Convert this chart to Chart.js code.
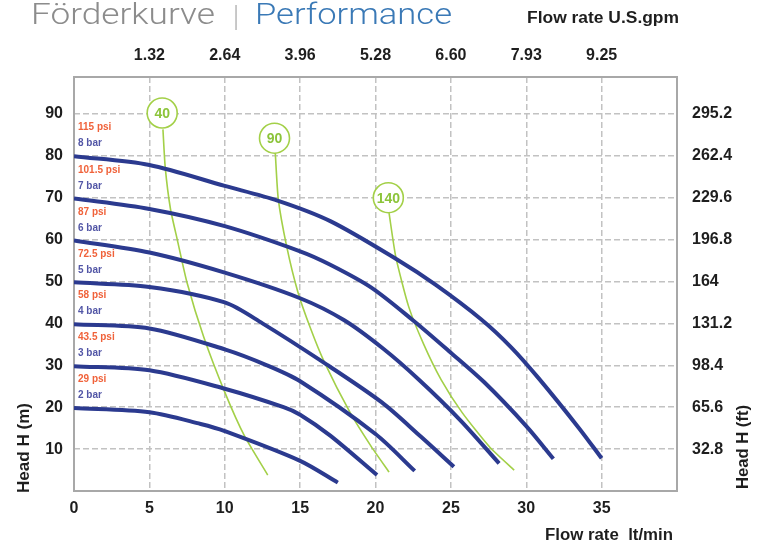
<!DOCTYPE html>
<html>
<head>
<meta charset="utf-8">
<title>Förderkurve | Performance</title>
<script src="https://cdn.jsdelivr.net/npm/chart.js@4.4.1/dist/chart.umd.min.js"></script>
<style>
    html, body { margin: 0; padding: 0; background: #fff; }
    #wrap { width: 765px; height: 544px; }
</style>
</head>
<body>
<div id="wrap"><canvas id="pumpChart" width="765" height="544"></canvas></div>
<script>
// Axis ticks
const flowTicks = [0, 5, 10, 15, 20, 25, 30, 35];
const gpmTicks = [5, 10, 15, 20, 25, 30, 35];
const gpmLabels = ['1.32', '2.64', '3.96', '5.28', '6.60', '7.93', '9.25'];
const headTicks = [10, 20, 30, 40, 50, 60, 70, 80, 90];
const feetLabels = ['32.8', '65.6', '98.4', '131.2', '164', '196.8', '229.6', '262.4', '295.2'];

// Pressure curves: flow (lt/min) and head (m)
const flow2 = [0, 5, 8.4, 10, 15, 17.5];
const head2 = [19.8, 18.8, 16, 14.3, 7.2, 2];
const flow3 = [0, 5, 10, 13.9, 15, 17, 20.1];
const head3 = [29.8, 28.8, 24.4, 20, 18.2, 13.2, 3.8];
const flow4 = [0, 5, 10, 12.8, 15, 20, 22.6];
const head4 = [39.8, 38.8, 33.8, 30, 26.2, 13.6, 4.8];
const flow5 = [0, 5, 10, 12.5, 16.5, 20.4, 23, 25.2];
const head5 = [49.8, 48.7, 45, 40, 30.8, 21.2, 13, 5.8];
const flow6 = [0, 5, 10, 15, 17.9, 20.5, 22.9, 25.6, 28.2];
const head6 = [59.8, 56.9, 52.1, 46, 40.8, 34, 26.5, 17, 6.6];
const flow7 = [0, 5, 10, 15, 17, 19.7, 22.4, 25, 27.2, 30, 31.8];
const head7 = [69.8, 67.3, 63.2, 57.2, 54, 48.6, 41, 33, 26, 15.5, 7.7];
const flow8 = [0, 5, 10, 13.5, 17, 21.4, 24, 27, 29, 30.8, 33.5, 35];
const head8 = [79.9, 77.8, 72.8, 69.3, 64.4, 55.3, 49.2, 41, 34.3, 27, 15, 7.8];

const barLabels = ['2 bar', '3 bar', '4 bar', '5 bar', '6 bar', '7 bar', '8 bar'];
const psiLabels = ['29 psi', '43.5 psi', '58 psi', '72.5 psi', '87 psi', '101.5 psi', '115 psi'];

// Stroke lines (green)
const flow40 = [5.9, 6.05, 6.4, 6.85, 7.5, 8.6, 10.0, 11.3, 12.85];
const head40 = [86.3, 77.3, 67.3, 60, 49.7, 36.8, 23.6, 13.2, 3.8];
const flow90 = [13.35, 13.55, 14.1, 14.85, 15.7, 16.6, 18.3, 19.7, 20.9];
const head90 = [80.8, 69.7, 58.5, 47.5, 38.7, 30.8, 18.8, 10.7, 4.5];
const flow140 = [20.9, 21.35, 22.2, 23.2, 24.35, 25.75, 27.6, 29.2];
const head140 = [66.3, 55.8, 44, 35, 26.6, 18.7, 10.4, 5];

const markerFlow = [5.85, 13.3, 20.85];
const markerHead = [90.2, 84.2, 70];
const markerLabels = ['40', '90', '140'];

const BLUE = '#2b3a8f';
const GREEN = '#a3d048';
const FONT = '"Liberation Sans", Arial, sans-serif';

const toPoints = (xs, ys) => xs.map((x, i) => ({ x: x, y: ys[i] }));

const pressureFlows = [flow2, flow3, flow4, flow5, flow6, flow7, flow8];
const pressureHeads = [head2, head3, head4, head5, head6, head7, head8];

const datasets = [];

// green lines first (drawn underneath)
[[flow40, head40], [flow90, head90], [flow140, head140]].forEach(([f, h]) => {
    datasets.push({
        data: toPoints(f, h),
        showLine: true,
        borderColor: GREEN,
        borderWidth: 1.6,
        pointRadius: 0,
        tension: 0.2,
        order: 3,
    });
});

pressureFlows.forEach((f, i) => {
    datasets.push({
        data: toPoints(f, pressureHeads[i]),
        showLine: true,
        borderColor: BLUE,
        borderWidth: 4,
        pointRadius: 0,
        tension: 0.3,
        borderCapStyle: 'butt',
        order: 2,
    });
});

const markerIndex = datasets.length;
datasets.push({
    data: toPoints(markerFlow, markerHead),
    showLine: false,
    pointRadius: 15,
    pointBackgroundColor: '#fff',
    pointBorderColor: GREEN,
    pointBorderWidth: 1.6,
    order: 1,
});

// draw text in a given width (condensed fonts are not installed)
function fitText(ctx, text, x, y, width) {
    const w = ctx.measureText(text).width;
    ctx.save();
    ctx.translate(x, y);
    ctx.scale(width / w, 1);
    ctx.fillText(text, 0, 0);
    ctx.restore();
}

const annotations = {
    id: 'annotations',
    beforeDatasetsDraw(chart) {
        const { ctx, chartArea: a } = chart;
        ctx.save();
        ctx.strokeStyle = '#a8a8a8';
        ctx.lineWidth = 2;
        ctx.strokeRect(a.left, a.top, a.right - a.left, a.bottom - a.top);
        ctx.restore();
    },
    afterDatasetsDraw(chart) {
        const { ctx, scales: { x, y } } = chart;
        ctx.save();

        // bar / psi labels above each pressure curve
        ctx.font = 'bold 10px ' + FONT;
        ctx.textAlign = 'left';
        ctx.textBaseline = 'middle';
        pressureHeads.forEach((heads, i) => {
            const px = x.getPixelForValue(0) + 4;
            ctx.fillStyle = '#5256a6';
            ctx.fillText(barLabels[i], px, y.getPixelForValue(heads[0] + 3));
            ctx.fillStyle = '#f0623a';
            ctx.fillText(psiLabels[i], px, y.getPixelForValue(heads[0] + 6.8));
        });

        // numbers in the green circles
        ctx.font = 'bold 14px ' + FONT;
        ctx.textAlign = 'center';
        ctx.fillStyle = '#8cc43a';
        chart.getDatasetMeta(markerIndex).data.forEach((pt, i) => {
            ctx.fillText(markerLabels[i], pt.x, pt.y + 1);
        });
        ctx.restore();
    },
    afterDraw(chart) {
        const ctx = chart.ctx;
        ctx.save();
        ctx.textBaseline = 'alphabetic';
        ctx.textAlign = 'left';

        // title
        ctx.font = '300 30px Roboto, "Open Sans", sans-serif';
        ctx.fillStyle = '#8c8c8c';
        fitText(ctx, 'Förderkurve', 31, 24, 184);
        fitText(ctx, '|', 234, 26, 4);
        ctx.fillStyle = '#3a79b6';
        fitText(ctx, 'Performance', 255, 24, 197);

        // axis titles
        ctx.fillStyle = '#1e1e1e';
        ctx.font = 'bold 16px ' + FONT;
        fitText(ctx, 'Flow rate U.S.gpm', 527, 23, 152);
        fitText(ctx, 'Flow rate  lt/min', 545, 540, 128);

        ctx.save();
        ctx.translate(29, 493);
        ctx.rotate(-Math.PI / 2);
        fitText(ctx, 'Head H (m)', 0, 0, 90);
        ctx.restore();

        ctx.save();
        ctx.translate(748, 489);
        ctx.rotate(-Math.PI / 2);
        fitText(ctx, 'Head H (ft)', 0, 0, 84);
        ctx.restore();

        ctx.restore();
    },
};

const tickFont = { family: FONT, size: 16, weight: 'bold' };
const gridStyle = { color: '#c2c2c2', lineWidth: 1.5, drawTicks: false };

new Chart(document.getElementById('pumpChart'), {
    type: 'scatter',
    data: { datasets: datasets },
    options: {
        responsive: false,
        animation: false,
        events: [],
        layout: { padding: 0 },
        plugins: { legend: { display: false }, tooltip: { enabled: false } },
        scales: {
            x: {
                type: 'linear',
                position: 'bottom',
                min: 0,
                max: 40,
                afterBuildTicks: (s) => { s.ticks = flowTicks.map((v) => ({ value: v })); },
                afterFit: (s) => { s.height = 53; },
                grid: gridStyle,
                border: { display: false, dash: [6, 3] },
                ticks: { font: tickFont, color: '#1e1e1e', padding: 8, maxRotation: 0 },
            },
            xTop: {
                type: 'linear',
                position: 'top',
                min: 0,
                max: 40,
                afterBuildTicks: (s) => { s.ticks = gpmTicks.map((v) => ({ value: v })); },
                afterFit: (s) => { s.height = 77; },
                grid: { display: false, drawTicks: false },
                border: { display: false },
                ticks: {
                    font: tickFont,
                    color: '#1e1e1e',
                    padding: 12,
                    maxRotation: 0,
                    callback: (v, i) => gpmLabels[i],
                },
            },
            y: {
                type: 'linear',
                position: 'left',
                min: 0,
                max: 98.8,
                afterBuildTicks: (s) => { s.ticks = headTicks.map((v) => ({ value: v })); },
                afterFit: (s) => { s.width = 74; },
                grid: gridStyle,
                border: { display: false, dash: [6, 3] },
                ticks: { font: tickFont, color: '#1e1e1e', padding: 11 },
            },
            yRight: {
                type: 'linear',
                position: 'right',
                min: 0,
                max: 98.8,
                afterBuildTicks: (s) => { s.ticks = headTicks.map((v) => ({ value: v })); },
                afterFit: (s) => { s.width = 88; },
                grid: { display: false, drawTicks: false },
                border: { display: false },
                ticks: {
                    font: tickFont,
                    color: '#1e1e1e',
                    padding: 15,
                    callback: (v, i) => feetLabels[i],
                },
            },
        },
    },
    plugins: [annotations],
});
</script>
</body>
</html>
